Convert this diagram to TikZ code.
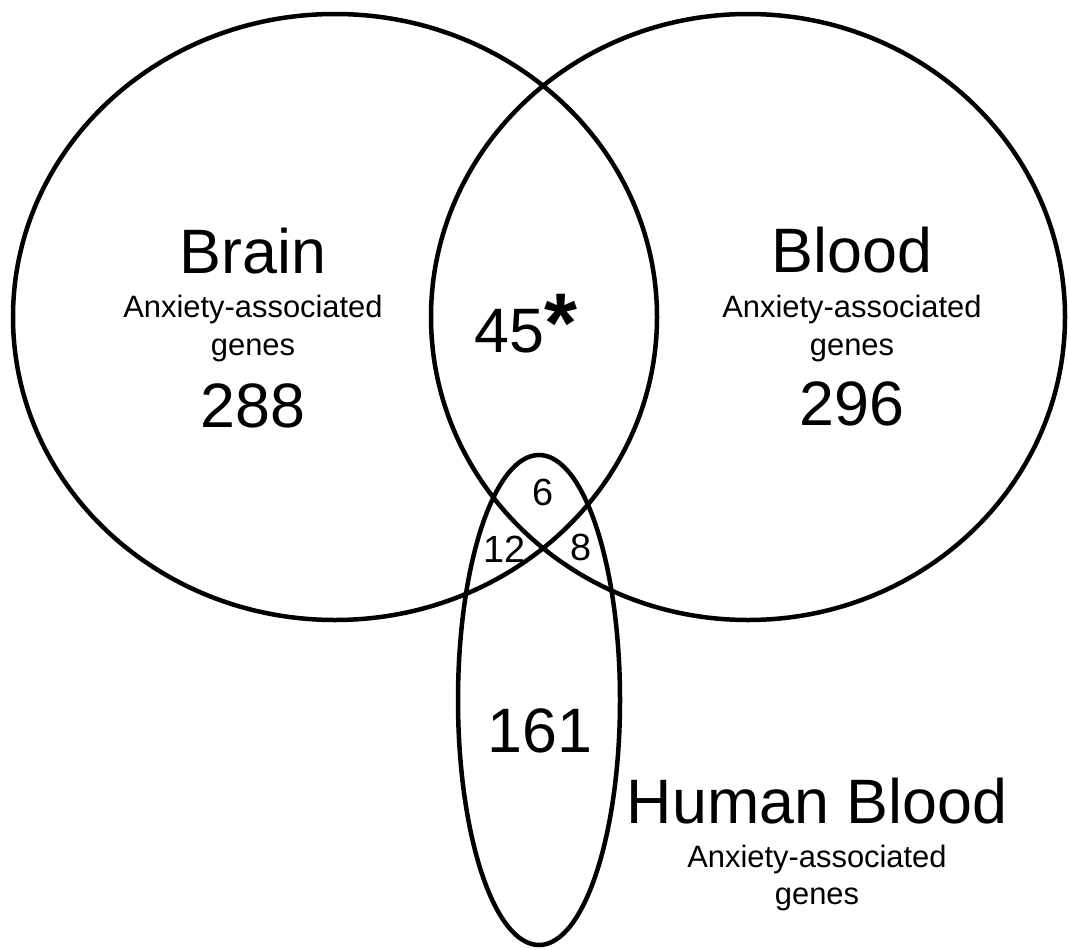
\documentclass[tikz,border=0pt]{standalone}
\usepackage{fontspec}
\setmainfont{Liberation Sans}
\usetikzlibrary{positioning}

\begin{document}
\begin{tikzpicture}[
  x=1bp, y=-1bp,
  setline/.style={draw=black, line width=4.5bp},
  setname/.style={anchor=base, inner sep=0pt, font=\fontsize{63}{63}\selectfont},
  setnote/.style={anchor=base, inner sep=0pt, font=\fontsize{31}{31}\selectfont},
  bigcount/.style={anchor=base, inner sep=0pt, font=\fontsize{63}{63}\selectfont},
  smallcount/.style={anchor=base, inner sep=0pt, font=\fontsize{38}{38}\selectfont}
]
\useasboundingbox (0,0) rectangle (1069,949);

\draw[setline] (335,317) ellipse [x radius=322, y radius=303];
\draw[setline] (748,317) ellipse [x radius=317, y radius=303];
\draw[setline] (539,700) ellipse [x radius=81, y radius=245];

\node[setname] (brain) at (253,273) {Brain};
\node[setnote] (brainnote) at (253,317) {Anxiety-associated};
\node[setnote] (braingenes) at (253,355) {genes};
\node[bigcount] (braincount) at (253,427) {288};

\node[setname] (blood) at (852,272) {Blood};
\node[setnote] (bloodnote) at (852,317) {Anxiety-associated};
\node[setnote] (bloodgenes) at (852,355) {genes};
\node[bigcount] (bloodcount) at (852,425) {296};

\node[bigcount, anchor=base west] (brainblood) at (474,352) {45{\fontsize{85}{85}\selectfont\bfseries *}};
\node[smallcount] (allthree) at (543,505) {6};
\node[smallcount] (brainhuman) at (505,562) {12};
\node[smallcount] (bloodhuman) at (581,560) {8};
\node[bigcount] (humancount) at (540,752) {161};

\node[setname] (human) at (817,823) {Human Blood};
\node[setnote] (humannote) at (817,867) {Anxiety-associated};
\node[setnote] (humangenes) at (817,904) {genes};
\end{tikzpicture}
\end{document}
